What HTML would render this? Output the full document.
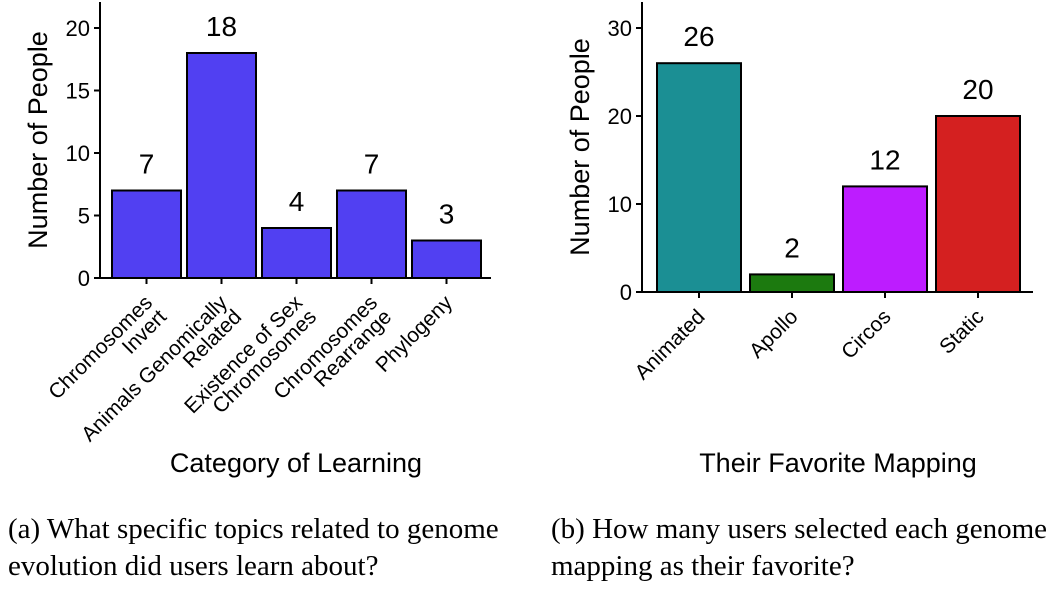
<!DOCTYPE html>
<html><head><meta charset="utf-8"><style>
body{margin:0;background:#fff;width:1057px;height:592px;overflow:hidden}
svg{font-family:"Liberation Sans",sans-serif}
.cap{font-family:"Liberation Serif",serif;font-size:29px;fill:#000}
</style></head><body>
<svg id="s" width="1057" height="592">
<text class="cap" x="8" y="538">(a) What specific topics related to genome</text>
<text class="cap" x="8" y="575">evolution did users learn about?</text>
<text class="cap" x="551" y="538">(b) How many users selected each genome</text>
<text class="cap" x="551" y="575">mapping as their favorite?</text>
</svg>
<script>
const catsA=[["Chromosomes","Invert"],["Animals Genomically","Related"],["Existence of Sex","Chromosomes"],["Chromosomes","Rearrange"],["Phylogeny"]];
const valsA=[7,18,4,7,3];
const ticksA=[0,5,10,15,20];
const catsB=[["Animated"],["Apollo"],["Circos"],["Static"]];
const valsB=[26,2,12,20];
const ticksB=[0,10,20,30];
const colorsB=["#1b8f94","#1c7a0f","#bd1cff","#d42020"];
const svg=document.getElementById('s');
const NS="http://www.w3.org/2000/svg";
function mk(t,a,txt){const e=document.createElementNS(NS,t);for(const k in a)e.setAttribute(k,a[k]);if(txt!=null)e.textContent=txt;svg.appendChild(e);return e;}
function chart(p){
  const y=v=>p.y0-v*p.py;
  const x=i=>p.x0+p.gap+i*p.step;
  p.vals.forEach((v,i)=>{
    const r=mk('rect',{x:x(i),y:y(v),width:p.bw,height:p.y0-y(v),fill:p.colors[i],stroke:'#000','stroke-width':2});
    
    
    const t=mk('text',{x:x(i)+p.bw/2,y:y(v)-17,'text-anchor':'middle','font-size':28},String(v));
    
    
    const cx=x(i)+p.bw/2;
    const tk=mk('line',{x1:cx,x2:cx,y1:p.y0,y2:p.y0+6,stroke:'#000','stroke-width':2});
    
    
    const ax=cx+7,ay=p.y0+26;
    const lt=mk('text',{x:ax,y:ay,'text-anchor':'end','font-size':21,transform:`rotate(-45 ${ax} ${ay})`});
    
    
    p.cats[i].forEach((s,j)=>{const ts=document.createElementNS(NS,'tspan');ts.setAttribute('x',ax);ts.setAttribute('dy',j?'0.95em':'0');ts.textContent=s;lt.appendChild(ts);});
  });
  p.ticks.forEach(v=>{
    const l=mk('line',{x1:p.x0-6,x2:p.x0,y1:y(v),y2:y(v),stroke:'#000','stroke-width':2});
    
    
    const t=mk('text',{x:p.x0-10,y:y(v)+8,'text-anchor':'end','font-size':22},String(v));
    
    
  });
  const ya=mk('line',{x1:p.x0,x2:p.x0,y1:p.ytop,y2:p.y0+1,stroke:'#000','stroke-width':2});
  
  
  const xa=mk('line',{x1:p.x0-1,x2:p.xend,y1:p.y0,y2:p.y0,stroke:'#000','stroke-width':2});
  
  
  const yc=p.ymid;
  const yt=mk('text',{x:p.ytx,y:yc,'text-anchor':'middle','font-size':27,transform:`rotate(-90 ${p.ytx} ${yc})`},'Number of People');
  
  
  const xt=mk('text',{x:p.xtx,y:472,'text-anchor':'middle','font-size':27},p.xtitle);
  
  
}
chart({id:'a',x0:100,y0:278,py:12.5,ytop:2,xend:491,gap:12,step:75,bw:69,vals:valsA,cats:catsA,ticks:ticksA,colors:valsA.map(()=>'#5140f2'),ytx:47,ymid:140,xtx:296,xtitle:'Category of Learning'});
chart({id:'b',x0:642,y0:292,py:8.8,ytop:2,xend:1033,gap:15,step:93,bw:84,vals:valsB,cats:catsB,ticks:ticksB,colors:colorsB,ytx:589,ymid:147,xtx:838,xtitle:'Their Favorite Mapping'});
</script>
</body></html>
